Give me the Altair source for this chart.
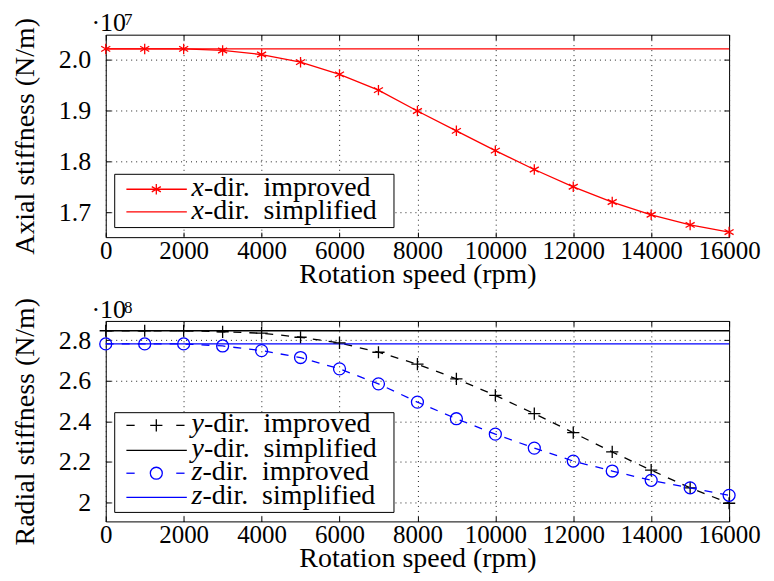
import altair as alt
import pandas as pd

# ---------------- data ----------------
rpm = [0, 1000, 2000, 3000, 4000, 5000, 6000, 7000, 8000, 9000,
       10000, 11000, 12000, 13000, 14000, 15000, 16000]
# axial stiffness, units of 1e7 N/m
axial_x_improved = [2.021, 2.021, 2.021, 2.018, 2.010, 1.995, 1.971, 1.940, 1.899,
                    1.860, 1.821, 1.784, 1.750, 1.720, 1.695, 1.675, 1.661]
simplified_rpm = [0, 16000]
axial_x_simplified = [2.021, 2.021]
# radial stiffness, units of 1e8 N/m
radial_y_improved = [2.847, 2.847, 2.847, 2.842, 2.835, 2.815, 2.787, 2.741, 2.682,
                     2.610, 2.528, 2.438, 2.344, 2.249, 2.159, 2.072, 1.996]
radial_y_simplified = [2.847, 2.847]
radial_z_improved = [2.782, 2.782, 2.782, 2.772, 2.749, 2.715, 2.659, 2.585, 2.495,
                     2.413, 2.337, 2.268, 2.204, 2.155, 2.109, 2.072, 2.035]
radial_z_simplified = [2.782, 2.782]

x_ticks = [0, 2000, 4000, 6000, 8000, 10000, 12000, 14000, 16000]
axial_ticks = [1.7, 1.8, 1.9, 2.0]
radial_ticks = [2.0, 2.2, 2.4, 2.6, 2.8]

# ---------------- styling ----------------
FONT = "Liberation Serif"
W = 625
RED, BLACK, BLUE = "#ff0000", "#000000", "#0000ff"
ASTERISK = "M0,-1L0,1M-0.866,-0.5L0.866,0.5M-0.866,0.5L0.866,-0.5"
PLUS = "M-1,0L1,0M0,-1L0,1"
LW = 1.3
DASH = [8, 8]
INWARD = {"expr": "-5"}

xscale = alt.Scale(domain=[0, 16000], nice=False, zero=False)


def main_x_axis():
    return alt.Axis(values=x_ticks, format="d", title="Rotation speed (rpm)",
                    grid=True, gridDash=[1, 4], gridColor="#222", gridWidth=1,
                    domain=False, tickSize=INWARD, tickColor="black", tickWidth=1,
                    labelPadding=6, labelFontSize=25, labelFont=FONT, labelColor="black",
                    labelFlush=False, titleFont=FONT, titleFontSize=28,
                    titleFontWeight="normal", titleColor="black",
                    titleBaseline="alphabetic", titleY=45)


def main_y_axis(title, ticks, label_expr):
    # axis moved 5px inside the plot so that its outward ticks point inward
    return alt.Axis(values=ticks, labelExpr=label_expr, title=title, offset=-5,
                    grid=True, gridDash=[1, 4], gridColor="#222", gridWidth=1,
                    domain=False, tickSize=5, tickColor="black", tickWidth=1,
                    labelPadding=15, labelFontSize=26, labelFont=FONT, labelColor="black",
                    labelFlush=False, titleFont=FONT, titleFontSize=28,
                    titleFontWeight="normal", titleColor="black",
                    titleBaseline="alphabetic", titleX=-77)


def mirror_x_axis():
    return alt.Axis(orient="top", values=x_ticks, labels=False, title=None, grid=False,
                    domain=False, tickSize=INWARD, tickColor="black", tickWidth=1)


def mirror_y_axis(ticks):
    return alt.Axis(orient="right", values=ticks, labels=False, title=None, grid=False,
                    domain=False, tickSize=INWARD, tickColor="black", tickWidth=1)


dummy = alt.Data(values=[{"k": 0}])


def legend_layers(box, rows):
    x0, x1, y0, y1 = box
    layers = [alt.Chart(dummy).mark_rect(fill="white", stroke="black", strokeWidth=1)
              .encode(x=alt.value(x0), x2=alt.value(x1), y=alt.value(y0), y2=alt.value(y1))]
    for r in rows:
        yy = r["y"]
        if r["dashed"]:
            segs = [(x0 + 11.7, x0 + 20), (x0 + 61.7, x0 + 70)]
        else:
            segs = [(x0 + 11.7, x0 + 72.3)]
        for a, b in segs:
            layers.append(alt.Chart(dummy).mark_rule(color=r["color"], strokeWidth=LW)
                          .encode(x=alt.value(a), x2=alt.value(b), y=alt.value(yy)))
        if r["shape"]:
            layers.append(alt.Chart(dummy).mark_point(shape=r["shape"], size=r["size"],
                                                      filled=False, color=r["color"],
                                                      strokeWidth=LW, opacity=1)
                          .encode(x=alt.value(x0 + 41.7), y=alt.value(yy)))
        layers.append(alt.Chart(dummy).mark_text(text=r["var"], font=FONT, fontStyle="italic",
                                                 fontSize=28, align="left",
                                                 baseline="alphabetic", color="black")
                      .encode(x=alt.value(x0 + 77), y=alt.value(yy + 7)))
        layers.append(alt.Chart(dummy).mark_text(text=r["rest"], font=FONT, fontSize=28,
                                                 align="left", baseline="alphabetic",
                                                 color="black")
                      .encode(x=alt.value(x0 + 77 + r["vw"]), y=alt.value(yy + 7)))
    return layers


def exponent_layers(power, base_y, sup_y):
    return [
        alt.Chart(dummy).mark_text(text="\u00b710", font=FONT, fontSize=26, align="left",
                                   baseline="alphabetic", color="black")
        .encode(x=alt.value(-14.3), y=alt.value(base_y)),
        alt.Chart(dummy).mark_text(text=power, font=FONT, fontSize=17, align="left",
                                   baseline="alphabetic", color="black")
        .encode(x=alt.value(18.3), y=alt.value(sup_y)),
    ]


def mirror_layer(df, field, yscale, ticks):
    # invisible layer that only carries the mirrored (top / right) tick axes
    return alt.Chart(df).mark_point(opacity=0).encode(
        x=alt.X("rpm:Q", scale=xscale, axis=mirror_x_axis()),
        y=alt.Y(field, scale=yscale, axis=mirror_y_axis(ticks)))


def simplified_rule(values, color, yscale):
    df = pd.DataFrame({"x0": [simplified_rpm[0]], "x1": [simplified_rpm[-1]],
                       "v": [values[0]]})
    return alt.Chart(df).mark_rule(color=color, strokeWidth=LW).encode(
        x=alt.X("x0:Q", scale=xscale, axis=None),
        x2="x1:Q",
        y=alt.Y("v:Q", scale=yscale, axis=None))


GAP = "-dir.\u00a0\u00a0"

# ---------------- top panel: axial ----------------
axial_df = pd.DataFrame({"rpm": rpm, "k": axial_x_improved})
axial_simp_df = pd.DataFrame({"rpm": simplified_rpm, "k": axial_x_simplified})
ay_scale = alt.Scale(domain=[1.651, 2.049], nice=False, zero=False)

top_simp = simplified_rule(axial_x_simplified, RED, ay_scale)
top_line = alt.Chart(axial_df).mark_line(color=RED, strokeWidth=LW).encode(
    x=alt.X("rpm:Q", scale=xscale, axis=main_x_axis()),
    y=alt.Y("k:Q", scale=ay_scale,
            axis=main_y_axis("Axial stiffness (N/m)", axial_ticks,
                             "format(datum.value, '.1f')")))
top_pts = alt.Chart(axial_df).mark_point(shape=ASTERISK, size=110, filled=False, color=RED,
                                         strokeWidth=LW, opacity=1).encode(
    x=alt.X("rpm:Q", scale=xscale, axis=None),
    y=alt.Y("k:Q", scale=ay_scale, axis=None))

top_legend = legend_layers((9, 289, 140, 193.4), [
    {"y": 155, "dashed": False, "shape": ASTERISK, "size": 110, "color": RED,
     "var": "x", "vw": 12.4, "rest": GAP + "improved"},
    {"y": 177.7, "dashed": False, "shape": None, "size": 0, "color": RED,
     "var": "x", "vw": 12.4, "rest": GAP + "simplified"},
])

top = alt.layer(mirror_layer(axial_simp_df, "k:Q", ay_scale, axial_ticks),
                top_line, top_simp, top_pts, *top_legend,
                *exponent_layers("7", -4, -9.3)).properties(
    width=W, height=203).resolve_axis(x="independent", y="independent")

# ---------------- bottom panel: radial ----------------
rad_df = pd.DataFrame({"rpm": rpm, "ky": radial_y_improved, "kz": radial_z_improved})
rad_simp_df = pd.DataFrame({"rpm": simplified_rpm, "ky": radial_y_simplified,
                            "kz": radial_z_simplified})
ry_scale = alt.Scale(domain=[1.9065, 2.8955], nice=False, zero=False)

b_simp_y = simplified_rule(radial_y_simplified, BLACK, ry_scale)
b_simp_z = simplified_rule(radial_z_simplified, BLUE, ry_scale)
b_line_y = alt.Chart(rad_df).mark_line(color=BLACK, strokeWidth=LW, strokeDash=DASH).encode(
    x=alt.X("rpm:Q", scale=xscale, axis=main_x_axis()),
    y=alt.Y("ky:Q", scale=ry_scale,
            axis=main_y_axis("Radial stiffness (N/m)", radial_ticks,
                             "datum.value == 2 ? '2' : format(datum.value, '.1f')")))
b_pts_y = alt.Chart(rad_df).mark_point(shape=PLUS, size=150, filled=False, color=BLACK,
                                       strokeWidth=LW, opacity=1).encode(
    x=alt.X("rpm:Q", scale=xscale, axis=None),
    y=alt.Y("ky:Q", scale=ry_scale, axis=None))
b_line_z = alt.Chart(rad_df).mark_line(color=BLUE, strokeWidth=LW, strokeDash=DASH).encode(
    x=alt.X("rpm:Q", scale=xscale, axis=None),
    y=alt.Y("kz:Q", scale=ry_scale, axis=None))
b_pts_z = alt.Chart(rad_df).mark_point(shape="circle", size=144, filled=False, color=BLUE,
                                       strokeWidth=LW, opacity=1).encode(
    x=alt.X("rpm:Q", scale=xscale, axis=None),
    y=alt.Y("kz:Q", scale=ry_scale, axis=None))

bottom_legend = legend_layers((9, 289, 92, 192), [
    {"y": 104.7, "dashed": True, "shape": PLUS, "size": 150, "color": BLACK,
     "var": "y", "vw": 12.4, "rest": GAP + "improved"},
    {"y": 129.7, "dashed": False, "shape": None, "size": 0, "color": BLACK,
     "var": "y", "vw": 12.4, "rest": GAP + "simplified"},
    {"y": 152.7, "dashed": True, "shape": "circle", "size": 144, "color": BLUE,
     "var": "z", "vw": 10.9, "rest": GAP + "improved"},
    {"y": 177, "dashed": False, "shape": None, "size": 0, "color": BLUE,
     "var": "z", "vw": 10.9, "rest": GAP + "simplified"},
])

bottom = alt.layer(mirror_layer(rad_simp_df, "ky:Q", ry_scale, radial_ticks),
                   b_line_y, b_simp_y, b_simp_z, b_pts_y, b_line_z, b_pts_z,
                   *bottom_legend, *exponent_layers("8", -2.8, -8.4)).properties(
    width=W, height=201).resolve_axis(x="independent", y="independent")

chart = alt.vconcat(top, bottom, spacing=7).properties(
    padding={"left": 3, "top": 0, "right": 5, "bottom": 2},
    background="white",
).configure_view(stroke="black", strokeWidth=1)

chart.save("out.html", embed_options={"renderer": "svg", "actions": False})
